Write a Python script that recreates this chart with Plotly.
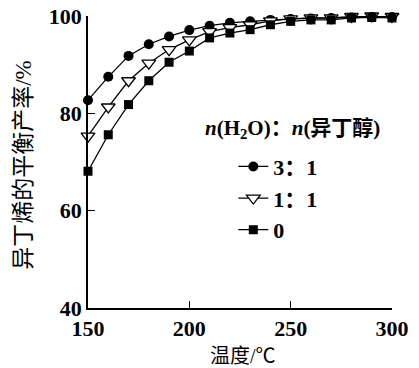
import plotly.graph_objects as go

temps = [150, 160, 170, 180, 190, 200, 210, 220, 230, 240, 250, 260, 270, 280, 290, 300]
ratio_3_1 = [82.7, 87.5, 91.8, 94.2, 95.8, 97.1, 98.0, 98.6, 98.9, 99.2, 99.4, 99.5, 99.6, 99.7, 99.8, 99.8]
ratio_1_1 = [75.3, 81.3, 86.7, 90.3, 93.1, 95.1, 96.8, 97.6, 98.2, 99.0, 99.4, 99.6, 99.6, 99.9, 100.0, 99.9]
ratio_0 = [68.1, 75.6, 81.8, 86.7, 90.5, 92.8, 95.5, 96.5, 97.2, 98.2, 98.9, 99.2, 99.2, 99.6, 99.7, 99.6]

series_names = ["3：1", "1：1", "0"]
x_ticks = [150, 200, 250, 300]
y_ticks = [40, 60, 80, 100]

FONT = "Liberation Serif, Noto Sans CJK SC, serif"

fig = go.Figure()
fig.add_trace(go.Scatter(
    x=temps, y=ratio_3_1, name=series_names[0], mode="lines+markers",
    line=dict(color="black", width=1.3),
    marker=dict(symbol="circle", size=10, color="black"),
    cliponaxis=False))
fig.add_trace(go.Scatter(
    x=temps, y=ratio_1_1, name=series_names[1], mode="lines+markers",
    line=dict(color="black", width=1.3),
    marker=dict(symbol="triangle-down", size=12, color="white",
                line=dict(color="black", width=1.3)),
    cliponaxis=False))
fig.add_trace(go.Scatter(
    x=temps, y=ratio_0, name=series_names[2], mode="lines+markers",
    line=dict(color="black", width=1.3),
    marker=dict(symbol="square", size=9, color="black"),
    cliponaxis=False))

fig.update_layout(
    width=419, height=368,
    margin=dict(l=88, r=27, t=16, b=60, autoexpand=False),
    paper_bgcolor="white", plot_bgcolor="white",
    font=dict(family=FONT, size=22, color="black"),
    showlegend=True,
    legend=dict(x=0.478, y=0.556, xanchor="left", yanchor="top",
                bgcolor="rgba(0,0,0,0)",
                font=dict(size=22, family=FONT, weight="bold"),
                itemwidth=30, tracegroupgap=0),
    annotations=[
        dict(text="<i>n</i>(H<sub>2</sub>O)：<i>n</i>(异丁醇)",
             x=0.672, y=0.614, xref="paper", yref="paper",
             xanchor="center", yanchor="middle", showarrow=False,
             font=dict(size=21, family=FONT, color="black", weight="bold")),
        dict(text="温度/℃", x=0.51, y=-0.163, xref="paper", yref="paper",
             xanchor="center", yanchor="middle", showarrow=False,
             font=dict(size=20, family=FONT, color="black")),
        dict(text="异丁烯的平衡产率/%", x=-0.211, y=0.49, xref="paper", yref="paper",
             xanchor="center", yanchor="middle", showarrow=False, textangle=-90,
             font=dict(size=23, family=FONT, color="black")),
    ],
)
fig.update_xaxes(
    range=[150, 300], tickvals=x_ticks, ticks="inside", ticklen=7,
    tickwidth=1.3, tickcolor="black", automargin=False,
    showline=True, linecolor="black", linewidth=1.5, showgrid=False,
    zeroline=False, tickfont=dict(size=22, family=FONT, weight="bold"))
fig.update_yaxes(
    range=[40, 100], tickvals=y_ticks, ticks="inside", ticklen=7,
    tickwidth=1.3, tickcolor="black", automargin=False,
    showline=True, linecolor="black", linewidth=1.5, showgrid=False,
    zeroline=False, tickfont=dict(size=22, family=FONT, weight="bold"))

fig.write_html("out.html")
